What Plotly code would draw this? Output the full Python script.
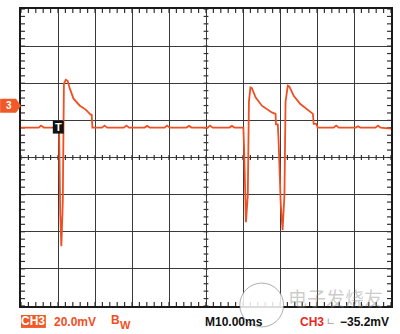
import plotly.graph_objects as go

# ---- data (time in ms, voltage in mV; 10 ms/div, 20 mV/div) ----
time_ms = [0, 4.8, 5.4, 6.2, 9.8, 10.3, 10.6, 10.9, 11.2, 11.3, 11.6, 12.1, 12.6, 13.2, 14.2, 15.9, 17.5, 18.8, 19.1,
           19.3, 21.9, 22.6, 23.3, 27.8, 28.5, 29.2, 33.4, 34.1, 34.8, 38.8, 39.5, 40.2, 44.7, 45.4, 46.1,
           50.4, 51.1, 51.8, 56.3, 57.0, 57.7, 60.1, 60.3, 60.8, 61.3, 61.6, 62.0, 62.4, 63.4, 65.1, 67.8,
           68.8, 68.9, 69.4, 69.6, 70.2, 70.7, 71.2, 71.5, 72.1, 72.5, 73.7, 75.5, 77.7, 78.9, 79.1, 79.8,
           80.2, 84.5, 85.2, 85.9, 90.5, 91.1, 91.7, 95.8, 96.5, 97.2, 100]
volt_mV = [16.1, 16.1, 17.2, 16.1, 16.1, 16.1, -30, -47.8, -30, -23, 39.7, 41.9, 41.3, 37.1, 31.7, 27.9, 25.8, 23.1, 23.1,
           16.1, 16.1, 17.2, 16.1, 16.1, 17.2, 16.1, 16.1, 17.0, 16.1, 16.1, 17.2, 16.1, 16.1, 17.0, 16.1,
           16.1, 17.2, 16.1, 16.1, 17.0, 16.1, 16.1, 5, -34.9, -20, 30, 37.8, 37.4, 32.4, 27.9, 24.3,
           23.5, 17.8, 17.8, 10, -25, -39.2, -20, 30, 38.7, 38.3, 33.3, 28.8, 25.2, 23.5, 18.1, 18.1,
           16.1, 16.1, 17.2, 16.1, 16.1, 16.8, 16.1, 16.1, 17.2, 16.1, 15.6]

X_RANGE = [0, 100]
Y_RANGE = [-80, 80]
X_DIV = 10
Y_DIV = 20

# ---- geometry ----
W, H = 400, 334
L, R, T, B = 21, 7, 8, 28
PW, PH = W - L - R, H - T - B


def px(x):
    return (x - L) / PW


def py(y):
    return (H - B - y) / PH


ORANGE = "#ef4f23"
fig = go.Figure()

# tick marks (border inside ticks and centre-line ticks)
xs, ys = [], []
tl_x = 4 * (X_RANGE[1] - X_RANGE[0]) / PW
tl_y = 4 * (Y_RANGE[1] - Y_RANGE[0]) / PH
x = X_RANGE[0]
while x <= X_RANGE[1] + 1e-9:
    xs += [x, x, None, x, x, None, x, x, None]
    ys += [Y_RANGE[1], Y_RANGE[1] - tl_y, None, Y_RANGE[0], Y_RANGE[0] + tl_y, None,
           -tl_y * 0.6, tl_y * 0.6, None]
    x += X_DIV / 5
y = Y_RANGE[0]
while y <= Y_RANGE[1] + 1e-9:
    xs += [X_RANGE[0], X_RANGE[0] + tl_x, None, X_RANGE[1], X_RANGE[1] - tl_x, None,
           50 - tl_x * 0.6, 50 + tl_x * 0.6, None]
    ys += [y, y, None, y, y, None, y, y, None]
    y += Y_DIV / 5
fig.add_trace(go.Scatter(x=xs, y=ys, mode="lines", line=dict(color="#333", width=1.2),
                         hoverinfo="skip", showlegend=False))

fig.add_trace(go.Scatter(x=time_ms, y=volt_mV, mode="lines",
                         line=dict(color=ORANGE, width=1.8), showlegend=False))

shapes = []
# channel 3 marker
shapes.append(dict(type="path", xref="paper", yref="paper",
                   path=f"M {px(0)} {py(98)} L {px(16)} {py(98)} L {px(21)} {py(105)} L {px(16)} {py(112)} L {px(0)} {py(112)} Z",
                   fillcolor="#f05a28", line=dict(width=0)))
# trigger marker
shapes.append(dict(type="rect", xref="paper", yref="paper", x0=px(53), x1=px(64), y0=py(120), y1=py(133),
                   fillcolor="#111", line=dict(width=0)))
# CH3 box
shapes.append(dict(type="rect", xref="paper", yref="paper", x0=px(21), x1=px(46), y0=py(315), y1=py(328),
                   fillcolor="#f05a28", line=dict(width=0)))
# watermark logo circle
shapes.append(dict(type="circle", xref="paper", yref="paper", x0=px(241), x1=px(285), y0=py(283), y1=py(327),
                   fillcolor="rgba(255,255,255,0.85)", line=dict(color="rgba(120,120,120,0.6)", width=1)))

FONT = "Liberation Sans"
ann = []
ann.append(dict(text="<b>3</b>", x=px(8.5), y=py(105), font=dict(color="white", size=10, family=FONT)))
ann.append(dict(text="<b>T</b>", x=px(58.5), y=py(126.5), font=dict(color="white", size=11, family=FONT)))
ann.append(dict(text="<b>CH3</b>", x=px(33.5), y=py(321.5), font=dict(color="white", size=12, family=FONT)))
ann.append(dict(text="<b>20.0mV</b>", x=px(52), y=py(322), xanchor="left", font=dict(color=ORANGE, size=12, family=FONT)))
ann.append(dict(text="<b>B</b>", x=px(109), y=py(320), xanchor="left", font=dict(color=ORANGE, size=12, family=FONT)))
ann.append(dict(text="<b>W</b>", x=px(118.5), y=py(325), xanchor="left", font=dict(color=ORANGE, size=11, family=FONT)))
ann.append(dict(text="<b>M10.00ms</b>", x=px(204), y=py(322), xanchor="left", font=dict(color="#111", size=12, family=FONT)))
ann.append(dict(text="<b>CH3</b>", x=px(299), y=py(322), xanchor="left", font=dict(color="#e8281e", size=12, family=FONT)))
ann.append(dict(text="ㄴ", x=px(326), y=py(321), xanchor="left", font=dict(color="#999", size=10, family="Noto Sans CJK SC")))
ann.append(dict(text="<b>−35.2mV</b>", x=px(340), y=py(322), xanchor="left", font=dict(color="#111", size=12, family=FONT)))
ann.append(dict(text="电子发烧友", x=px(337), y=py(297), font=dict(color="rgba(140,140,140,0.45)", size=19, family="Noto Sans CJK SC")))
for a in ann:
    a.setdefault("xanchor", "center")
    a.update(xref="paper", yref="paper", yanchor="middle", showarrow=False)

axis_common = dict(showgrid=True, gridcolor="#3a3a3a", gridwidth=1.2, zeroline=False,
                   showticklabels=False, ticks="", showline=True, mirror=True,
                   linecolor="#1a1a1a", linewidth=2, fixedrange=True)
fig.update_layout(
    width=W, height=H, margin=dict(l=L, r=R, t=T, b=B),
    paper_bgcolor="white", plot_bgcolor="white",
    xaxis=dict(range=X_RANGE, dtick=X_DIV, **axis_common),
    yaxis=dict(range=Y_RANGE, dtick=Y_DIV, **axis_common),
    shapes=shapes, annotations=ann, showlegend=False,
)
fig.write_html("out.html", config={"displayModeBar": False},
               post_script="document.body.style.margin='0';document.body.style.overflow='hidden';")
